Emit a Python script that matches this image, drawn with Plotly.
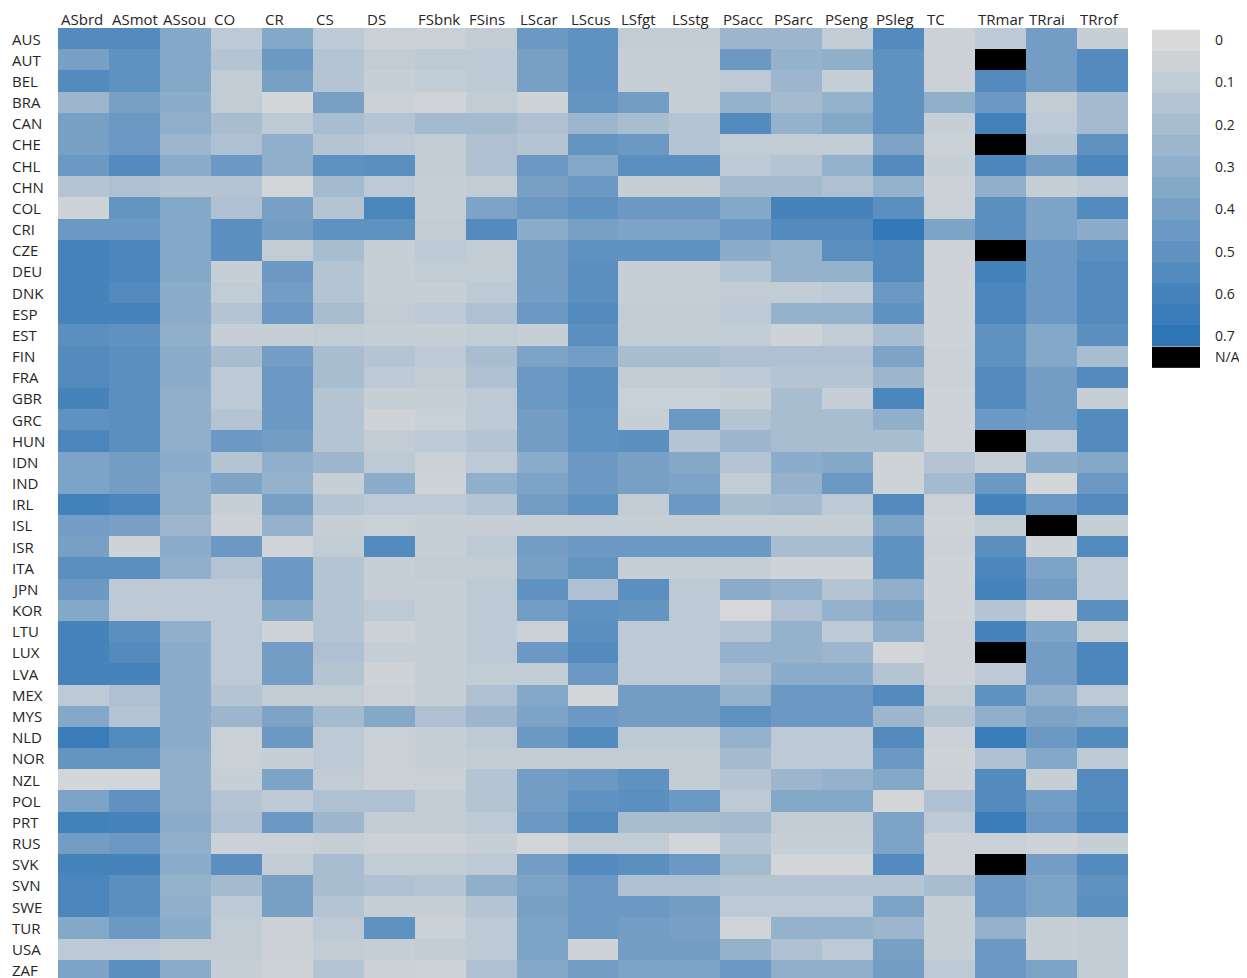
import plotly.graph_objects as go

countries = ["AUS","AUT","BEL","BRA","CAN","CHE","CHL","CHN","COL","CRI","CZE","DEU","DNK","ESP","EST",
             "FIN","FRA","GBR","GRC","HUN","IDN","IND","IRL","ISL","ISR","ITA","JPN","KOR","LTU","LUX",
             "LVA","MEX","MYS","NLD","NOR","NZL","POL","PRT","RUS","SVK","SVN","SWE","TUR","USA","ZAF"]
sectors = ["ASbrd","ASmot","ASsou","CO","CR","CS","DS","FSbnk","FSins","LScar","LScus","LSfgt","LSstg",
           "PSacc","PSarc","PSeng","PSleg","TC","TRmar","TRrai","TRrof"]
N = None

# one list per country, values in sector order (None = N/A)
AUS = [.55,.55,.35,.12,.35,.12,.07,.07,.10,.45,.50,.10,.10,.25,.25,.10,.55,.06,.12,.42,.08]
AUT = [.40,.50,.35,.15,.45,.15,.10,.12,.12,.40,.50,.08,.08,.45,.28,.30,.50,.06,N,.42,.55]
BEL = [.55,.50,.35,.10,.40,.15,.08,.10,.12,.40,.50,.08,.08,.12,.25,.08,.50,.06,.55,.42,.55]
BRA = [.25,.40,.32,.10,.03,.40,.07,.04,.10,.05,.48,.42,.08,.28,.22,.28,.50,.30,.45,.10,.22]
CAN = [.40,.45,.30,.20,.12,.20,.15,.22,.22,.18,.25,.20,.15,.55,.28,.35,.50,.08,.62,.12,.22]
CHE = [.40,.45,.25,.18,.30,.15,.12,.10,.18,.15,.48,.45,.15,.10,.10,.10,.38,.07,N,.15,.50]
CHL = [.45,.55,.32,.45,.30,.50,.52,.10,.18,.45,.35,.52,.52,.12,.15,.28,.55,.08,.58,.42,.58]
CHN = [.15,.18,.15,.15,.03,.22,.12,.08,.10,.40,.45,.08,.08,.22,.22,.18,.28,.06,.30,.08,.12]
COL = [.05,.48,.35,.18,.40,.15,.58,.08,.38,.45,.50,.45,.45,.35,.60,.60,.52,.07,.52,.38,.55]
CRI = [.45,.45,.35,.52,.42,.50,.50,.10,.55,.32,.40,.38,.38,.45,.55,.55,.68,.38,.52,.38,.32]
CZE = [.60,.58,.35,.52,.10,.20,.08,.12,.10,.42,.50,.50,.50,.32,.28,.52,.55,.05,N,.45,.52]
DEU = [.60,.58,.35,.08,.45,.15,.08,.10,.10,.42,.52,.08,.08,.15,.28,.28,.55,.05,.62,.45,.55]
DNK = [.60,.55,.32,.10,.42,.15,.08,.08,.12,.42,.52,.08,.08,.10,.10,.12,.45,.05,.58,.45,.55]
ESP = [.60,.60,.32,.15,.45,.20,.10,.12,.18,.45,.55,.10,.10,.12,.28,.28,.50,.05,.58,.45,.55]
EST = [.52,.50,.30,.08,.08,.10,.08,.08,.10,.08,.52,.10,.10,.10,.05,.10,.20,.05,.50,.35,.52]
FIN = [.55,.52,.32,.20,.42,.20,.15,.12,.20,.38,.42,.20,.20,.18,.18,.18,.38,.06,.50,.35,.20]
FRA = [.55,.52,.32,.12,.45,.20,.12,.10,.18,.45,.52,.10,.10,.12,.15,.15,.25,.06,.55,.42,.55]
GBR = [.60,.52,.30,.12,.45,.15,.08,.08,.12,.45,.52,.07,.07,.08,.20,.08,.58,.05,.55,.42,.08]
GRC = [.50,.52,.30,.15,.45,.15,.05,.07,.12,.42,.50,.08,.45,.15,.20,.20,.30,.05,.45,.42,.55]
HUN = [.58,.52,.30,.45,.42,.15,.10,.12,.15,.42,.50,.52,.15,.25,.20,.20,.20,.05,N,.12,.55]
IDN = [.38,.42,.32,.15,.30,.25,.12,.07,.12,.32,.45,.40,.35,.15,.32,.35,.05,.15,.08,.32,.35]
IND = [.38,.42,.30,.38,.28,.08,.32,.05,.30,.38,.45,.40,.38,.10,.28,.45,.05,.22,.45,.03,.45]
IRL = [.62,.58,.30,.08,.40,.15,.12,.12,.15,.42,.50,.10,.45,.20,.22,.12,.55,.07,.60,.45,.55]
ISL = [.42,.40,.25,.06,.28,.08,.07,.08,.08,.08,.08,.08,.08,.08,.08,.08,.38,.05,.10,N,.08]
ISR = [.40,.05,.32,.45,.04,.10,.55,.08,.12,.42,.45,.45,.45,.45,.20,.20,.50,.06,.52,.05,.55]
ITA = [.52,.52,.30,.15,.45,.15,.08,.10,.10,.40,.48,.08,.08,.08,.05,.05,.50,.05,.58,.38,.12]
JPN = [.45,.12,.12,.12,.45,.15,.08,.08,.12,.50,.18,.52,.12,.32,.28,.15,.30,.05,.60,.42,.12]
KOR = [.35,.12,.12,.12,.35,.15,.12,.08,.12,.42,.50,.48,.12,.02,.18,.28,.38,.05,.15,.03,.52]
LTU = [.60,.52,.30,.12,.05,.15,.06,.08,.12,.07,.52,.12,.12,.15,.28,.12,.30,.06,.60,.38,.10]
LUX = [.60,.55,.32,.12,.42,.18,.08,.08,.12,.45,.55,.12,.12,.28,.28,.25,.03,.06,N,.42,.58]
LVA = [.60,.60,.32,.12,.42,.15,.05,.08,.10,.10,.45,.12,.12,.20,.32,.32,.15,.06,.12,.42,.58]
MEX = [.12,.18,.32,.15,.10,.10,.06,.08,.18,.35,.03,.42,.42,.28,.45,.45,.55,.10,.50,.30,.12]
MYS = [.35,.15,.32,.25,.38,.22,.35,.18,.25,.38,.45,.42,.42,.50,.45,.45,.25,.15,.30,.38,.35]
NLD = [.65,.55,.32,.07,.45,.12,.07,.08,.12,.45,.55,.12,.12,.28,.12,.12,.55,.06,.65,.45,.55]
NOR = [.48,.48,.30,.07,.08,.12,.07,.08,.10,.10,.10,.10,.10,.22,.12,.12,.45,.05,.18,.35,.12]
NZL = [.03,.03,.30,.08,.38,.10,.06,.07,.15,.42,.45,.50,.10,.15,.25,.28,.35,.06,.55,.08,.55]
POL = [.38,.50,.30,.15,.12,.18,.18,.10,.15,.42,.50,.52,.45,.12,.35,.35,.03,.18,.55,.42,.55]
PRT = [.62,.60,.32,.18,.45,.25,.10,.10,.12,.45,.55,.20,.20,.22,.10,.10,.38,.12,.65,.45,.58]
RUS = [.42,.45,.30,.06,.07,.08,.06,.06,.08,.03,.10,.10,.03,.15,.08,.08,.38,.06,.07,.05,.08]
SVK = [.60,.60,.32,.52,.10,.20,.10,.10,.12,.42,.55,.52,.45,.22,.03,.03,.55,.06,N,.42,.55]
SVN = [.58,.52,.28,.22,.40,.20,.18,.15,.30,.38,.45,.18,.18,.15,.15,.15,.15,.20,.45,.38,.50]
SWE = [.58,.52,.30,.12,.40,.15,.08,.08,.15,.40,.45,.45,.42,.12,.12,.12,.38,.08,.45,.38,.52]
TUR = [.35,.45,.32,.10,.06,.12,.50,.07,.12,.38,.45,.42,.40,.04,.28,.28,.25,.08,.28,.08,.10]
USA = [.12,.12,.10,.10,.06,.10,.08,.10,.12,.38,.05,.42,.42,.28,.18,.12,.40,.08,.45,.08,.10]
ZAF = [.38,.52,.32,.08,.05,.15,.06,.05,.18,.35,.42,.38,.38,.45,.30,.30,.42,.12,.45,.38,.10]

legend_values = [0, 0.05, 0.1, 0.15, 0.2, 0.25, 0.3, 0.35, 0.4, 0.45, 0.5, 0.55, 0.6, 0.65, 0.7]
legend_ticks = [0, 0.1, 0.2, 0.3, 0.4, 0.5, 0.6, 0.7]
na_label = "N/A"
na_edges = [0.725, 0.775]

rows = [AUS,AUT,BEL,BRA,CAN,CHE,CHL,CHN,COL,CRI,CZE,DEU,DNK,ESP,EST,FIN,FRA,GBR,GRC,HUN,IDN,IND,IRL,
        ISL,ISR,ITA,JPN,KOR,LTU,LUX,LVA,MEX,MYS,NLD,NOR,NZL,POL,PRT,RUS,SVK,SVN,SWE,TUR,USA,ZAF]

scale = [[0.0, "#dadada"], [1.0, "#2e75b6"]]
black = [[0.0, "#000000"], [1.0, "#000000"]]
FONT = "Open Sans"
TXT = "#262626"

z = [[v for v in r] for r in rows]
z_na = [[1 if v is None else None for v in r] for r in rows]

fig = go.Figure()
fig.add_trace(go.Heatmap(z=z, x=sectors, y=countries, colorscale=scale, zmin=0, zmax=0.7,
                         showscale=False, xaxis="x", yaxis="y", hoverongaps=False))
fig.add_trace(go.Heatmap(z=z_na, x=sectors, y=countries, colorscale=black, zmin=0, zmax=1,
                         showscale=False, xaxis="x", yaxis="y", hoverongaps=False))
# legend strip
fig.add_trace(go.Heatmap(z=[[v] for v in legend_values], x=[0], y=legend_values, colorscale=scale,
                         zmin=0, zmax=0.7, showscale=False, xaxis="x2", yaxis="y2"))
fig.add_trace(go.Heatmap(z=[[1]], x=[-0.5, 0.5], y=na_edges, colorscale=black, zmin=0, zmax=1,
                         showscale=False, xaxis="x2", yaxis="y2"))

OFF = 8  # default page margin of the html body
W, H = 1247 - OFF, 978 - OFF
ml, mr, mt, mb = 58 - OFF, 47, 28 - OFF, 0
pw = W - ml - mr
ph = H - mt - mb
main_right = (1128 - 58) / pw
leg_left = (1152 - 58) / pw
leg_top = 1 - (29.4 - 28) / ph
leg_bot = 1 - (368 - 28) / ph

nrow = len(countries)
fig.update_layout(
    width=W, height=H, margin=dict(l=ml, r=mr, t=mt, b=mb, autoexpand=False),
    paper_bgcolor="white", plot_bgcolor="white",
    font=dict(family=FONT, size=14, color=TXT),
    xaxis=dict(domain=[0, main_right], showticklabels=False, ticks="", showgrid=False,
               zeroline=False, showline=False, range=[-0.5, len(sectors) - 0.5]),
    yaxis=dict(domain=[0, 1], showticklabels=False, ticks="", showgrid=False, zeroline=False,
               showline=False, range=[nrow - 0.5 - 2.6 / 21.16, -0.5]),
    xaxis2=dict(domain=[leg_left, 1], anchor="y2", showticklabels=False, ticks="",
                showgrid=False, zeroline=False, range=[-0.5, 0.5]),
    yaxis2=dict(domain=[leg_bot, leg_top], anchor="x2", side="right", range=[0.775, -0.025],
                tickvals=legend_ticks + [sum(na_edges) / 2],
                ticktext=[f"{t:g}" for t in legend_ticks] + [na_label],
                ticks="", showgrid=False, zeroline=False, ticklabelstandoff=14, automargin=False,
                tickfont=dict(family=FONT, size=14, color=TXT)),
)

ann = []
for i, s in enumerate(sectors):
    ann.append(dict(x=i - 0.5, xref="x", y=1, yref="paper", text=s, showarrow=False,
                    xanchor="left", yanchor="bottom", xshift=1, yshift=-3,
                    font=dict(family=FONT, size=15, color=TXT)))
for j, c in enumerate(countries):
    ann.append(dict(x=0, xref="paper", y=j, yref="y", text=c, showarrow=False,
                    xanchor="left", yanchor="middle", xshift=-48,
                    font=dict(family=FONT, size=15, color=TXT)))
fig.update_layout(annotations=ann)

fig.write_html("out.html")
